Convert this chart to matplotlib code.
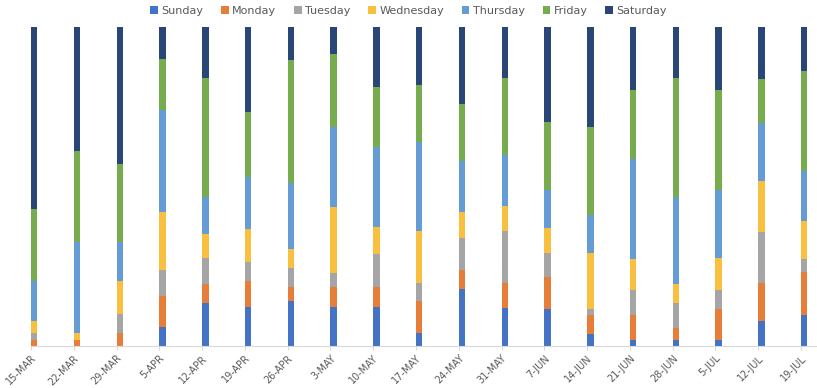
import numpy as np
import matplotlib.pyplot as plt

# week labels
weeks = ['15-MAR', '22-MAR', '29-MAR', '5-APR', '12-APR', '19-APR', '26-APR',
         '3-MAY', '10-MAY', '17-MAY', '24-MAY', '31-MAY', '7-JUN', '14-JUN',
         '21-JUN', '28-JUN', '5-JUL', '12-JUL', '19-JUL']

days = ['Sunday', 'Monday', 'Tuesday', 'Wednesday', 'Thursday', 'Friday', 'Saturday']

# share of each day per week (percent)
sunday = [0, 0, 0, 6.1, 13.6, 12.2, 14.2, 12.3, 12.3, 4.0, 17.9, 12.0, 11.6, 3.9, 1.9, 1.9, 1.9, 7.8, 9.6]
monday = [1.9, 1.9, 4.0, 9.7, 6.0, 8.2, 4.2, 6.3, 6.3, 10.0, 6.0, 7.8, 9.9, 5.7, 7.7, 3.9, 9.7, 12.0, 13.7]
tuesday = [2.1, 0, 6.2, 8.0, 7.9, 6.0, 6.2, 4.4, 10.4, 5.9, 10.0, 16.1, 7.7, 2.0, 8.0, 7.8, 6.1, 16.1, 4.1]
wednesday = [4.0, 2.1, 10.2, 18.1, 7.8, 10.2, 6.0, 20.7, 8.4, 16.1, 8.0, 8.0, 7.7, 17.7, 9.8, 5.9, 9.8, 16.0, 11.8]
thursday = [12.4, 28.5, 12.1, 32.1, 11.5, 16.5, 20.5, 25.1, 25.1, 27.9, 16.0, 15.9, 12.0, 11.9, 31.3, 27.4, 21.5, 18.0, 15.7]
friday = [22.5, 28.6, 24.6, 15.9, 37.3, 20.4, 38.7, 23.0, 18.7, 18.1, 18.1, 24.1, 21.4, 27.5, 21.4, 37.3, 31.2, 14.0, 31.3]
saturday = [57.2, 38.9, 42.9, 10.1, 15.9, 26.5, 10.3, 8.3, 18.8, 18.1, 24.0, 16.0, 29.6, 31.3, 19.7, 15.9, 19.7, 16.1, 13.8]

colors = ['#4472C4', '#E67E3A', '#A5A5A5', '#F9C040', '#659CD6', '#76AC4E', '#2A4677']

series = np.array([sunday, monday, tuesday, wednesday, thursday, friday, saturday], dtype=float)
shares = series / series.sum(axis=0) * 100

fig = plt.figure(figsize=(8.17, 3.88), dpi=100)
ax = fig.add_axes([0, 0.108, 1, 0.822])

x = np.arange(len(weeks))
bottom = np.zeros(len(weeks))
for day, vals, c in zip(days, shares, colors):
    ax.bar(x, vals, width=0.15, bottom=bottom, color=c, align='edge', label=day)
    bottom += vals

ax.set_xlim(-0.725, 18.374)
ax.set_ylim(0, 100)
ax.set_yticks([])
for s in ['top', 'right', 'left']:
    ax.spines[s].set_visible(False)
ax.spines['bottom'].set_color('#d9d9d9')
ax.spines['bottom'].set_bounds(0, 18.374)

ax.set_xticks(x)
ax.set_xticklabels(weeks, rotation=45, ha='right', rotation_mode='anchor',
                   fontsize=7, color='#595959')
ax.tick_params(axis='x', length=3, color='#d9d9d9', pad=2)

fig.legend(loc='upper center', bbox_to_anchor=(0.5, 1.01), ncol=7, frameon=False,
           fontsize=8, labelcolor='#595959', handlelength=0.7, handleheight=0.7,
           handletextpad=0.3, columnspacing=1.6)

fig.savefig('out.png', dpi=100)
